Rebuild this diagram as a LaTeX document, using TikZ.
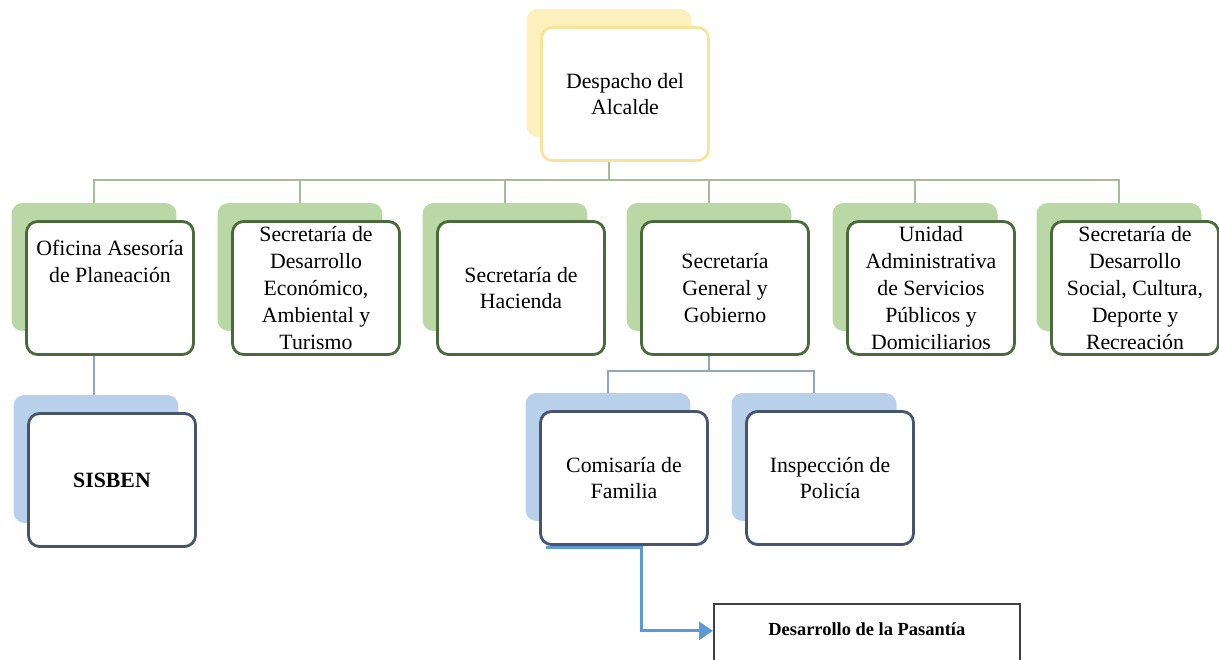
\documentclass[tikz,border=0pt]{standalone}
\usepackage{fontspec}
\setmainfont{Liberation Serif}
\usetikzlibrary{positioning,arrows.meta,backgrounds}
\definecolor{ylwback}{HTML}{FCF0BC}
\definecolor{ylwline}{HTML}{F6E39C}
\definecolor{grnback}{HTML}{B9D8A6}
\definecolor{grnline}{HTML}{4B6A3C}
\definecolor{grncon}{HTML}{A8BA9C}
\definecolor{bluback}{HTML}{B9D0EA}
\definecolor{bluline}{HTML}{46546D}
\definecolor{blucon}{HTML}{93A6BE}
\definecolor{arrblue}{HTML}{5B9BD5}

\begin{document}
\begin{tikzpicture}[x=0.02cm,y=-0.02cm,
  back/.style={rectangle,rounded corners=0.22cm,minimum width=3.3cm,minimum height=2.56cm},
  yback/.style={back,fill=ylwback},
  gback/.style={back,fill=grnback},
  bback/.style={back,fill=bluback},
  box/.style={rectangle,rounded corners=0.22cm,minimum width=3.34cm,minimum height=2.66cm,
    align=center,line width=1.6pt,fill=white,inner sep=1pt,font=\fontsize{12.4}{15.3}\selectfont},
  ybox/.style={box,draw=ylwline},
  gbox/.style={box,draw=grnline},
  bbox/.style={box,draw=bluline},
  gcon/.style={draw=grncon,line width=1.1pt},
  bcon/.style={draw=blucon,line width=1.1pt},
  arr/.style={-{Triangle[length=0.28cm,width=0.36cm]},draw=arrblue,line width=1.8pt},
  pasbox/.style={draw=black!75,line width=1pt,minimum width=6.12cm,inner sep=0pt,
    text height=0.64cm,text depth=1cm,font=\fontsize{10.5}{12}\selectfont\bfseries}
]
\useasboundingbox (0,0) rectangle (1219,659);
\clip (0,0) rectangle (1219,659);

\node[yback] (alcB) at (609,73) {};
\node[ybox] (alc) at ([shift={(16,21)}]alcB.center) {Despacho del\\Alcalde};

\node[gback] (ofiB) at (94,267) {};
\node[gbox] (ofi) at ([shift={(16,21)}]ofiB.center) {Oficina Asesoría\\de Planeación\\~\\~};
\node[gback] (desB) at (300,267) {};
\node[gbox] (des) at ([shift={(16,21)}]desB.center) {Secretaría de\\Desarrollo\\Económico,\\Ambiental y\\Turismo};
\node[gback] (hacB) at (505,267) {};
\node[gbox] (hac) at ([shift={(16,21)}]hacB.center) {Secretaría de\\Hacienda};
\node[gback] (genB) at (709,267) {};
\node[gbox] (gen) at ([shift={(16,21)}]genB.center) {Secretaría\\General y\\Gobierno};
\node[gback] (uniB) at (915,267) {};
\node[gbox] (uni) at ([shift={(16,21)}]uniB.center) {Unidad\\Administrativa\\de Servicios\\Públicos y\\Domiciliarios};
\node[gback] (socB) at (1119,267) {};
\node[gbox] (soc) at ([shift={(16,21)}]socB.center) {Secretaría de\\Desarrollo\\Social, Cultura,\\Deporte y\\Recreación};

\node[bback] (sisB) at (96,459) {};
\node[bbox] (sis) at ([shift={(16,21)}]sisB.center) {\bfseries SISBEN};
\node[bback] (comB) at (608,457) {};
\node[bbox] (com) at ([shift={(16,21)}]comB.center) {Comisaría de\\Familia};
\node[bback] (insB) at (814,457) {};
\node[bbox] (ins) at ([shift={(16,21)}]insB.center) {Inspección de\\Policía};

\node[pasbox,anchor=north west] (pas) at (713,603) {Desarrollo de la Pasantía};

\begin{scope}[on background layer]
\foreach \c in {ofiB,desB,hacB,genB,uniB,socB}
  \draw[gcon] (alcB.south) |- ([yshift=0.46cm]\c.north) -- (\c.north);
\draw[bcon] (ofiB.south) -- (ofiB.south |- sisB.north);
\foreach \c in {comB,insB}
  \draw[bcon] (genB.south) |- ([yshift=0.44cm]\c.north) -- (\c.north);
\end{scope}

\draw[arr] ([shift={(7,2)}]com.south west) -- ++(95,0) |- ([yshift=0.28cm]pas.west);
\end{tikzpicture}
\end{document}
